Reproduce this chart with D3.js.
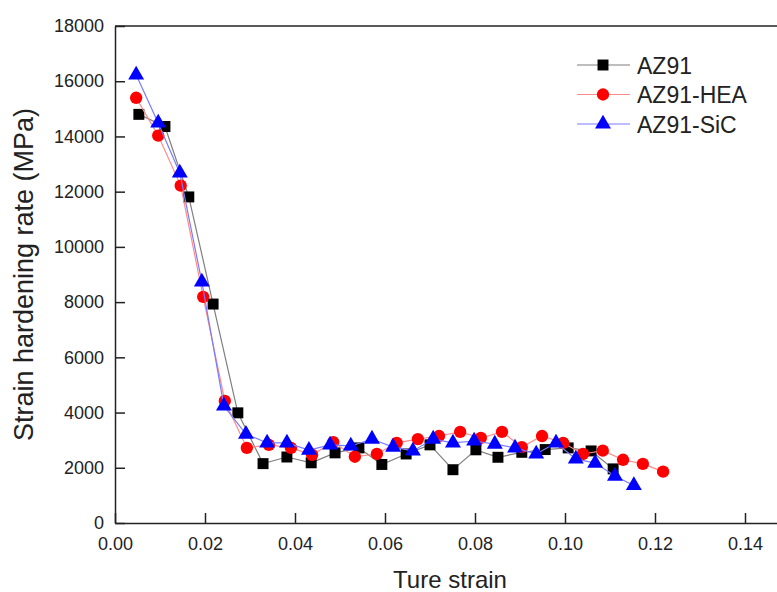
<!DOCTYPE html>
<html>
<head>
<meta charset="utf-8">
<script src="https://cdn.jsdelivr.net/npm/d3@7"></script>
<style>
  body { margin: 0; background: #fff; }
  svg { display: block; font-family: "Liberation Sans", Arial, sans-serif; }
  .axis path, .axis line { stroke: #222; stroke-width: 1.5; }
  .axis text { font-size: 18px; fill: #222; }
</style>
</head>
<body>
<svg id="chart" width="777" height="592"></svg>
<script>
// AZ91 (black squares)
const az91X = [0.0053, 0.0111, 0.0164, 0.0218, 0.0273, 0.0329, 0.0382, 0.0436, 0.0489, 0.0542, 0.0593,
               0.0647, 0.0700, 0.0751, 0.0802, 0.0851, 0.0904, 0.0956, 0.1007, 0.1058, 0.1107];
const az91Y = [14800, 14360, 11810, 7930, 3990, 2150, 2390, 2180, 2540, 2720, 2120,
               2500, 2830, 1930, 2650, 2380, 2560, 2660, 2720, 2610, 1960];

// AZ91-HEA (red circles)
const heaX = [0.0047, 0.0096, 0.0146, 0.0196, 0.0244, 0.0293, 0.0342, 0.0391, 0.0438, 0.0485, 0.0533,
              0.0582, 0.0626, 0.0673, 0.0720, 0.0767, 0.0813, 0.0860, 0.0904, 0.0949, 0.0996, 0.1040,
              0.1084, 0.1129, 0.1173, 0.1218];
const heaY = [15400, 14030, 12220, 8190, 4420, 2720, 2830, 2720, 2470, 2930, 2400,
              2500, 2900, 3040, 3150, 3300, 3080, 3300, 2750, 3150, 2900, 2500,
              2620, 2290, 2140, 1860];

// AZ91-SiC (blue triangles)
const sicX = [0.0047, 0.0096, 0.0144, 0.0193, 0.0242, 0.0291, 0.0338, 0.0382, 0.0431, 0.0478, 0.0524,
              0.0571, 0.0618, 0.0662, 0.0707, 0.0751, 0.0798, 0.0844, 0.0889, 0.0936, 0.0980, 0.1024,
              0.1067, 0.1111, 0.1153];
const sicY = [16230, 14490, 12680, 8730, 4240, 3220, 2900, 2900, 2640, 2830, 2790,
              3040, 2750, 2610, 3040, 2900, 2970, 2860, 2720, 2500, 2900, 2320,
              2170, 1700, 1360];

const xTicks = [0, 0.02, 0.04, 0.06, 0.08, 0.10, 0.12, 0.14];
const yTicks = [0, 2000, 4000, 6000, 8000, 10000, 12000, 14000, 16000, 18000];

const series = [
  { name: "AZ91", xs: az91X, ys: az91Y, line: "#7f7f7f", fill: "#000000", shape: d3.symbolSquare, size: 120 },
  { name: "AZ91-HEA", xs: heaX, ys: heaY, line: "#ff8a8a", fill: "#ff0000", shape: d3.symbolCircle, size: 120 },
  { name: "AZ91-SiC", xs: sicX, ys: sicY, line: "#7b7bff", fill: "#0000ff", shape: d3.symbolTriangle, size: 110 }
];

const margin = { left: 115, top: 26, bottom: 69 };
const svg = d3.select("#chart");

const x = d3.scaleLinear().domain([0, 0.15]).range([margin.left, 790]);
const y = d3.scaleLinear().domain([0, 18000]).range([592 - margin.bottom, margin.top]);

// frame top line (right side falls outside the picture)
svg.append("line")
  .attr("x1", x(0)).attr("x2", x(0.15))
  .attr("y1", y(18000)).attr("y2", y(18000))
  .attr("stroke", "#222").attr("stroke-width", 1.5);

svg.append("g")
  .attr("class", "axis")
  .attr("transform", `translate(0,${y(0)})`)
  .call(d3.axisBottom(x).tickValues(xTicks).tickFormat(d3.format(".2f"))
    .tickSizeInner(-10).tickSizeOuter(0).tickPadding(14));

svg.append("g")
  .attr("class", "axis")
  .attr("transform", `translate(${x(0)},0)`)
  .call(d3.axisLeft(y).tickValues(yTicks).tickFormat(d3.format("d"))
    .tickSizeInner(-10).tickSizeOuter(0).tickPadding(11));

// axis titles
svg.append("text")
  .attr("x", 450).attr("y", 588)
  .attr("text-anchor", "middle")
  .attr("font-size", 24).attr("fill", "#222")
  .text("Ture strain");

svg.append("text")
  .attr("transform", `translate(33,${(y(0) + y(18000)) / 2}) rotate(-90)`)
  .attr("text-anchor", "middle")
  .attr("font-size", 27).attr("fill", "#222")
  .text("Strain hardening rate (MPa)");

// lines and markers
const line = d3.line().x(d => x(d[0])).y(d => y(d[1]));

series.forEach(s => {
  const pts = s.xs.map((v, i) => [v, s.ys[i]]);
  const g = svg.append("g");
  g.append("path")
    .attr("d", line(pts))
    .attr("fill", "none")
    .attr("stroke", s.line)
    .attr("stroke-width", 1.2);
  g.selectAll("path.pt")
    .data(pts)
    .join("path")
    .attr("class", "pt")
    .attr("transform", d => `translate(${x(d[0])},${y(d[1])})`)
    .attr("d", d3.symbol().type(s.shape).size(s.size))
    .attr("fill", s.fill);
});

// legend
const legend = svg.append("g").attr("transform", "translate(577,65)");
const rows = legend.selectAll("g")
  .data(series)
  .join("g")
  .attr("transform", (d, i) => `translate(0,${i * 29.5})`);
rows.append("line")
  .attr("x1", 0).attr("x2", 53)
  .attr("stroke", d => d.line).attr("stroke-width", 1.2);
rows.append("path")
  .attr("transform", "translate(26,0)")
  .attr("d", d => d3.symbol().type(d.shape).size(d.size)())
  .attr("fill", d => d.fill);
rows.append("text")
  .attr("x", 60).attr("y", 8.5)
  .attr("font-size", 23).attr("fill", "#222")
  .text(d => d.name);
</script>
</body>
</html>
